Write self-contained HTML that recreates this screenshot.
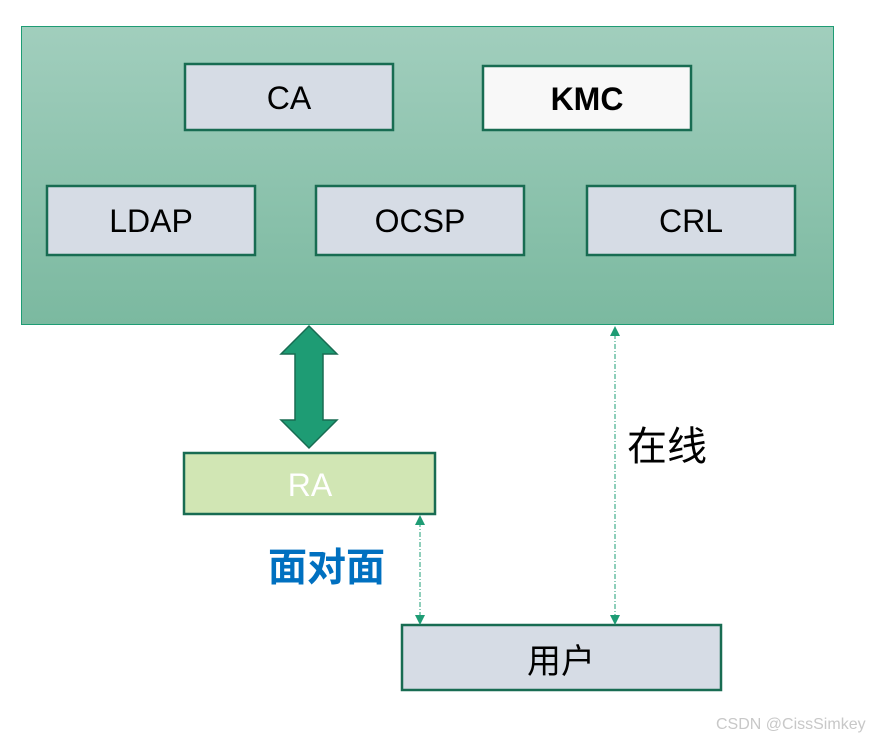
<!DOCTYPE html>
<html><head><meta charset="utf-8"><style>
body{margin:0;background:#fff;width:870px;height:738px;overflow:hidden}
</style></head><body>
<svg width="870" height="738" xmlns="http://www.w3.org/2000/svg" font-family="'Liberation Sans','Noto Sans CJK SC',sans-serif">
<defs><linearGradient id="g" x1="0" y1="0" x2="0" y2="1"><stop offset="0" stop-color="#a1cebd"/><stop offset="1" stop-color="#7bb9a0"/></linearGradient></defs>
<rect x="21.5" y="26.5" width="812" height="298" fill="url(#g)" stroke="#1e9c74" stroke-width="1"/>
<g stroke="#186c52" stroke-width="2.5" fill="#d6dce5">
<rect x="185" y="64" width="208" height="66"/>
<rect x="483" y="66" width="208" height="64" fill="#f8f8f8"/>
<rect x="47" y="186" width="208" height="69"/>
<rect x="316" y="186" width="208" height="69"/>
<rect x="587" y="186" width="208" height="69"/>
<rect x="184" y="453" width="251" height="61" fill="#d1e6b4"/>
<rect x="402" y="625" width="319" height="65"/>
</g>
<g font-size="32" text-anchor="middle" fill="#000">
<text x="289" y="109">CA</text>
<text x="587" y="110" font-weight="bold">KMC</text>
<text x="151" y="232">LDAP</text>
<text x="420" y="232">OCSP</text>
<text x="691" y="232">CRL</text>
<text x="310" y="496" fill="#fff">RA</text>
<text x="561" y="673" font-size="34">用户</text>
</g>
<polygon points="309,326 337,354 323,354 323,420 337,420 309,448 281,420 295,420 295,354 281,354" fill="#1e9c74" stroke="#186c52" stroke-width="1.5"/>
<g stroke="#1e9c74" stroke-width="1" stroke-dasharray="5,2,1,2">
<line x1="420" y1="522" x2="420" y2="617"/>
<line x1="615" y1="334" x2="615" y2="617"/>
</g>
<g fill="#1e9c74">
<polygon points="420,515 415,525 425,525"/><polygon points="420,625 415,615 425,615"/>
<polygon points="615,326 610,336 620,336"/><polygon points="615,625 610,615 620,615"/>
</g>
<text x="627" y="460" font-size="40" fill="#000">在线</text>
<text x="268" y="581" font-size="39" font-weight="bold" fill="#0070c0">面对面</text>
<text x="716" y="729" font-size="16" fill="#c8c8c8">CSDN @CissSimkey</text>
</svg>
</body></html>
